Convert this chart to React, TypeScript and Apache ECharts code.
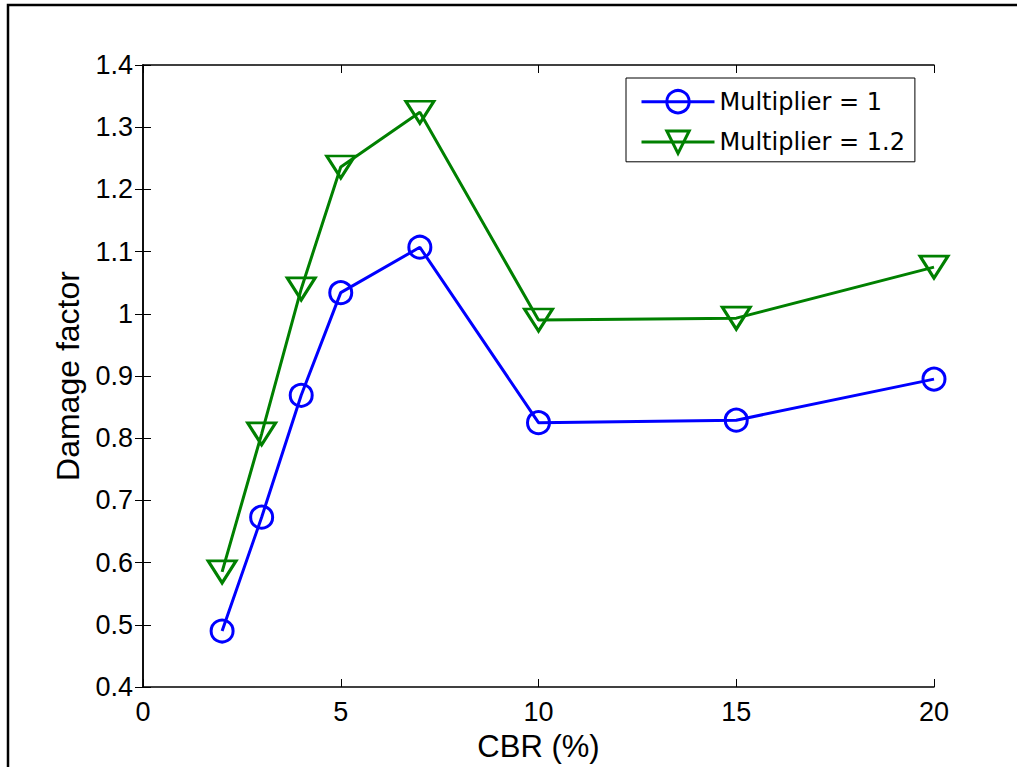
import React, { useEffect, useRef } from "react";
import * as echarts from "echarts";

const cbr = [2, 3, 4, 5, 7, 10, 15, 20];
const mult1 = [0.49, 0.673, 0.869, 1.034, 1.107, 0.825, 0.829, 0.895];
const mult12 = [0.585, 0.807, 1.04, 1.236, 1.324, 0.99, 0.993, 1.075];
const seriesNames = ["Multiplier = 1", "Multiplier = 1.2"];
const xTitle = "CBR (%)";
const yTitle = "Damage factor";

const FONT = "'Liberation Sans', Arial, sans-serif";

export default function App() {
  const ref = useRef<HTMLDivElement>(null);
  useEffect(() => {
    if (!ref.current) return;
    const chart = echarts.init(ref.current, undefined, { renderer: "svg" });
    const axisCommon = {
      axisLine: { show: true, lineStyle: { color: "#000", width: 1.5 } },
      axisTick: { show: true, inside: true, length: 8, lineStyle: { color: "#000", width: 1 } },
      splitLine: { show: false },
    };
    chart.setOption({
      animation: false,
      backgroundColor: "#fff",
      grid: { left: 143, top: 65, right: 83, bottom: 80, containLabel: false },
      graphic: [
        {
          type: "rect",
          shape: { x: 8, y: 5, width: 2000, height: 2000 },
          style: { fill: "none", stroke: "#000", lineWidth: 2.5 },
          z: 100,
        },
      ],
      xAxis: [
        {
          type: "value",
          min: 0,
          max: 20,
          interval: 5,
          name: xTitle,
          nameLocation: "middle",
          nameGap: 44,
          nameTextStyle: { fontFamily: FONT, fontSize: 31, color: "#000" },
          axisLabel: { fontFamily: FONT, fontSize: 27, color: "#000", margin: 11 },
          ...axisCommon,
        },
        {
          type: "value",
          position: "top",
          min: 0,
          max: 20,
          interval: 5,
          axisLabel: { show: false },
          ...axisCommon,
        },
      ],
      yAxis: [
        {
          type: "value",
          min: 0.4,
          max: 1.4,
          interval: 0.1,
          name: yTitle,
          nameLocation: "middle",
          nameGap: 59,
          nameTextStyle: { fontFamily: FONT, fontSize: 32, color: "#000" },
          axisLabel: { fontFamily: FONT, fontSize: 27, color: "#000", margin: 10 },
          ...axisCommon,
        },
        {
          type: "value",
          position: "right",
          min: 0.4,
          max: 1.4,
          interval: 0.1,
          axisLabel: { show: false },
          ...axisCommon,
        },
      ],
      legend: {
        left: 626,
        top: 78,
        orient: "vertical",
        backgroundColor: "#fff",
        borderColor: "#000",
        borderWidth: 1,
        padding: [11, 10, 7, 14],
        itemGap: 15,
        itemWidth: 73,
        itemHeight: 28,
        lineStyle: { width: 3 },
        itemStyle: { borderWidth: 3 },
        textStyle: { fontFamily: "'DejaVu Sans', sans-serif", fontSize: 24, color: "#000" },
        data: seriesNames,
      },
      series: [
        {
          name: seriesNames[0],
          type: "line",
          data: cbr.map((x, i) => [x, mult1[i]]),
          symbol: "circle",
          symbolSize: 22,
          lineStyle: { color: "#0000ff", width: 3 },
          itemStyle: { color: "rgba(0,0,0,0)", borderColor: "#0000ff", borderWidth: 3 },
          z: 3,
        },
        {
          name: seriesNames[1],
          type: "line",
          data: cbr.map((x, i) => [x, mult12[i]]),
          symbol: "triangle",
          symbolRotate: 180,
          symbolSize: [28, 22],
          lineStyle: { color: "#008000", width: 3 },
          itemStyle: { color: "rgba(0,0,0,0)", borderColor: "#008000", borderWidth: 3 },
          z: 3,
        },
      ],
    });
    return () => chart.dispose();
  }, []);
  return (
    <div
      ref={ref}
      style={{ position: "fixed", left: 0, top: 0, width: 1017, height: 767 }}
    />
  );
}
